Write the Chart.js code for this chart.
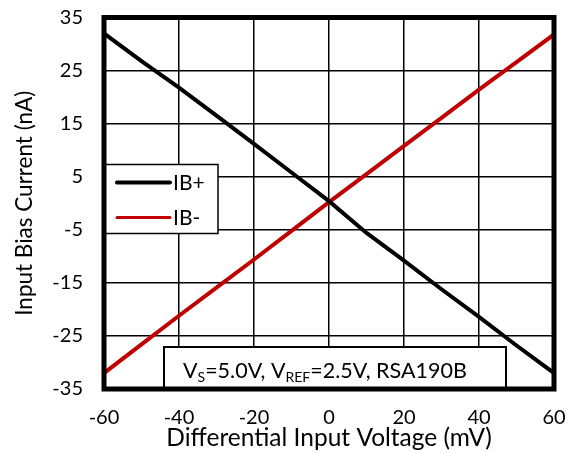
<!DOCTYPE html>
<html>
<head>
<meta charset="utf-8">
<script src="https://cdn.jsdelivr.net/npm/chart.js@4"></script>
<style>
  html, body { margin: 0; padding: 0; background: #fff; }
  #wrap { width: 574px; height: 453px; }
</style>
</head>
<body>
<div id="wrap"><canvas id="myChart" width="574" height="453"></canvas></div>
<script>
// differential input voltage (mV)
const voltage = [-60, -50, -40, -30, -20, -10, 0, 10, 20, 30, 40, 50, 60];
// input bias currents (nA)
const ibPlus = [32, 26.8, 21.8, 16.5, 11.2, 5.8, 0.4, -5.6, -10.8, -16.2, -21.4, -26.8, -32];
const ibMinus = [-32, -26.6, -21.2, -15.9, -10.6, -5.2, 0.2, 5.5, 10.8, 16.1, 21.4, 26.6, 31.8];
const xTicks = [-60, -40, -20, 0, 20, 40, 60];
const yTicks = [-35, -25, -15, -5, 5, 15, 25, 35];

const FONT = 'Lato, "DejaVu Sans", sans-serif';

const toPoints = (ys) => voltage.map((x, i) => ({ x: x, y: ys[i] }));

// thick frame, inside legend and condition box
const decorations = {
    id: 'decorations',
    afterDraw(chart) {
        const ctx = chart.ctx;
        const a = chart.chartArea;
        ctx.save();

        // condition box at the bottom
        const bx = a.left + 60, by = a.bottom - 42, bw = 342, bh = 42;
        ctx.fillStyle = '#fff';
        ctx.fillRect(bx, by, bw, bh);
        ctx.strokeStyle = '#000';
        ctx.lineWidth = 2;
        ctx.strokeRect(bx, by, bw, bh);

        ctx.fillStyle = '#000';
        ctx.textBaseline = 'alphabetic';
        ctx.textAlign = 'left';
        let tx = bx + 19;
        const base = by + 31;
        const parts = [
            ['V', false], ['S', true], ['=5.0V, V', false], ['REF', true], ['=2.5V, RSA190B', false]
        ];
        parts.forEach(([t, sub]) => {
            ctx.font = (sub ? '14px ' : '21.5px ') + FONT;
            ctx.fillText(t, tx, sub ? base + 4 : base);
            tx += ctx.measureText(t).width;
        });

        // legend
        const lx = a.left + 1, ly = a.top + 147, lw = 113, lh = 69;
        ctx.fillStyle = '#fff';
        ctx.fillRect(lx, ly, lw, lh);
        ctx.strokeStyle = '#000';
        ctx.lineWidth = 1.5;
        ctx.strokeRect(lx, ly, lw, lh);
        chart.data.datasets.forEach((ds, i) => {
            const yy = ly + 18 + i * 35;
            ctx.strokeStyle = ds.borderColor;
            ctx.lineWidth = i === 0 ? 4 : 3;
            ctx.lineCap = 'round';
            ctx.beginPath();
            ctx.moveTo(lx + 12, yy);
            ctx.lineTo(lx + 65, yy);
            ctx.stroke();
            ctx.fillStyle = '#000';
            ctx.font = '21px ' + FONT;
            ctx.textBaseline = 'middle';
            ctx.fillText(ds.label, lx + 68, yy + 1);
        });

        // frame
        ctx.strokeStyle = '#000';
        ctx.lineWidth = 5;
        ctx.lineCap = 'butt';
        ctx.strokeRect(a.left, a.top, a.right - a.left, a.bottom - a.top);
        ctx.restore();
    }
};

const ctx = document.getElementById('myChart');
new Chart(ctx, {
    type: 'scatter',
    data: {
        datasets: [{
            label: 'IB+',
            data: toPoints(ibPlus),
            borderColor: '#000000',
            backgroundColor: '#000000',
            borderWidth: 4,
            showLine: true,
            pointRadius: 0,
        }, {
            label: 'IB-',
            data: toPoints(ibMinus),
            borderColor: '#C00000',
            backgroundColor: '#C00000',
            borderWidth: 4,
            showLine: true,
            pointRadius: 0,
        }]
    },
    options: {
        responsive: false,
        animation: false,
        layout: { padding: { top: 17.5, right: 20, left: 0, bottom: 0 } },
        plugins: {
            legend: { display: false },
            title: { display: false },
            tooltip: { enabled: false },
        },
        scales: {
            x: {
                type: 'linear',
                min: -60,
                max: 60,
                afterBuildTicks: (scale) => { scale.ticks = xTicks.map(v => ({ value: v })); },
                afterFit: (scale) => {
                    scale.height = 64;
                    scale.paddingLeft = 0;
                    scale.paddingRight = 0;
                },
                ticks: {
                    color: '#000',
                    font: { family: FONT, size: 20 },
                    padding: 17,
                    maxRotation: 0,
                },
                grid: { color: '#000', lineWidth: 1.5, drawTicks: false },
                border: { display: false },
                title: {
                    display: true,
                    text: 'Differential Input Voltage (mV)',
                    color: '#000',
                    font: { family: FONT, size: 24.5 },
                    padding: { top: 0, bottom: 0 },
                },
            },
            y: {
                type: 'linear',
                min: -35,
                max: 35,
                afterBuildTicks: (scale) => { scale.ticks = yTicks.map(v => ({ value: v })); },
                afterFit: (scale) => {
                    scale.width = 104;
                    scale.paddingTop = 0;
                    scale.paddingBottom = 0;
                },
                ticks: {
                    color: '#000',
                    font: { family: FONT, size: 20 },
                    padding: 21,
                },
                grid: { color: '#000', lineWidth: 1.5, drawTicks: false },
                border: { display: false },
                title: {
                    display: true,
                    text: 'Input Bias Current (nA)',
                    color: '#000',
                    font: { family: FONT, size: 22.5 },
                    padding: { top: 11, bottom: 0 },
                },
            }
        }
    },
    plugins: [decorations]
});
</script>
</body>
</html>
